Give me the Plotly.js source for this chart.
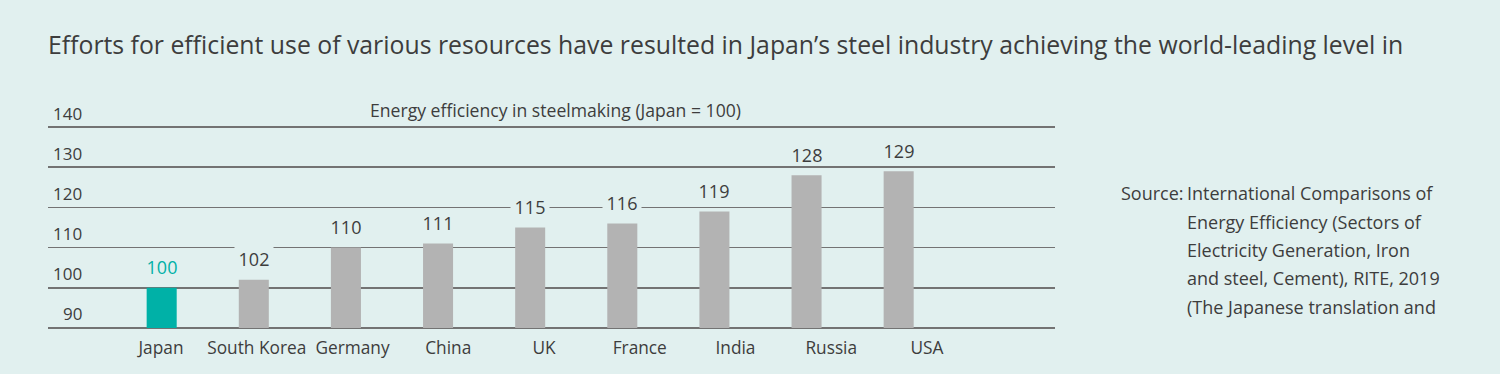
<!DOCTYPE html>
<html><head><meta charset="utf-8">
<script src="https://cdn.plot.ly/plotly-3.0.1.min.js"></script>
<style>html,body{margin:0;padding:0;background:#e1f0ef;}#chart{width:1500px;height:374px;}</style>
</head><body><div id="chart"></div>
<script>
const categories = ['Japan','South Korea','Germany','China','UK','France','India','Russia','USA'];
const values = [100,102,110,111,115,116,119,128,129];
const tickVals = [90,100,110,120,130,140];
const tickLabels = ['90','100','110','120','130','140'];
const highlight = 'Japan';
const titleText = "Efforts for efficient use of various resources have resulted in Japan\u2019s steel industry achieving the world-leading level in";
const subtitleText = 'Energy efficiency in steelmaking (Japan = 100)';
const sourceLabel = 'Source:';
const sourceLines = ['International Comparisons of','Energy Efficiency (Sectors of','Electricity Generation, Iron','and steel, Cement), RITE, 2019','(The Japanese translation and'];

const W=1500,H=374,L=48,R=1055,T=125,B=330;
const BG='#e1f0ef', TEXT='#3d3d3d', TEAL='#00b1a7', GRAY='#b3b3b3';
const FONT='"Open Sans", sans-serif';
const px = x => (x-L)/(R-L);
const py = y => (B-y)/(B-T);
const axisFloor = tickVals[0];

const colors = categories.map(c => c===highlight?TEAL:GRAY);

const traces = [
  {type:'bar', x:categories, y:values.map(v=>v-axisFloor), base:axisFloor, marker:{color:colors}, width:0.326,
   hoverinfo:'skip', showlegend:false},
  {type:'scatter', x:categories, y:values, xaxis:'x2', yaxis:'y', mode:'none',
   hoverinfo:'skip', showlegend:false}
];

const annotations = [];
categories.forEach((c,i)=>{
  annotations.push({x:c, xref:'x', y:values[i], yref:'y', yanchor:'bottom', yshift:10.5,
    text:String(values[i]), showarrow:false, bgcolor:BG, borderpad:0, width:38, height:21, valign:'top', align:'center',
    font:{family:FONT, size:18, color:c===highlight?TEAL:TEXT}});
});
tickVals.forEach((v,i)=>{
  annotations.push({x:px(84), xref:'paper', xanchor:'right', y:v, yref:'y', yanchor:'middle', yshift:14,
    text:tickLabels[i], showarrow:false, font:{family:FONT, size:17, color:TEXT}});
});
annotations.push({x:px(555), xref:'paper', y:py(110), yref:'paper', xanchor:'center', yanchor:'middle',
  text:subtitleText, showarrow:false, font:{family:FONT, size:17.6, color:TEXT}});
annotations.push({x:px(1118.5), xref:'paper', y:py(193.3), yref:'paper', xanchor:'left', yanchor:'middle',
  text:sourceLabel, showarrow:false, font:{family:FONT, size:18, color:TEXT}});
sourceLines.forEach((t,i)=>{
  annotations.push({x:px(1184.5), xref:'paper', y:py(193.3+i*28.35), yref:'paper', xanchor:'left', yanchor:'middle',
    text:t, showarrow:false, font:{family:FONT, size:18, color:TEXT}});
});

const layout = {
  width:W, height:H,
  paper_bgcolor:BG, plot_bgcolor:BG,
  margin:{l:L, r:W-R, t:T, b:H-B, pad:0},
  font:{family:FONT, color:TEXT},
  title:{text:titleText, x:L/W, xref:'container', xanchor:'left', y:1-45/H, yref:'container', yanchor:'middle',
    font:{family:FONT, size:24.8, color:TEXT}},
  xaxis:{type:'category', range:[-1.234, 9.697], showticklabels:false, showgrid:false, zeroline:false, ticks:'', fixedrange:true},
  xaxis2:{type:'category', overlaying:'x', anchor:'y', side:'bottom', range:[-1.18, 9.337], showgrid:false, zeroline:false,
    ticks:'', showline:false, ticklabelstandoff:6, tickfont:{family:FONT, size:17.3, color:TEXT}, fixedrange:true},
  yaxis:{range:[89.5,140.5], tickvals:tickVals, showticklabels:false, showgrid:true, gridcolor:'#737373', gridwidth:1.5,
    zeroline:false, ticks:'', fixedrange:true},
  annotations:annotations,
  showlegend:false
};

Plotly.newPlot('chart', traces, layout, {displayModeBar:false, staticPlot:true});
</script></body></html>
